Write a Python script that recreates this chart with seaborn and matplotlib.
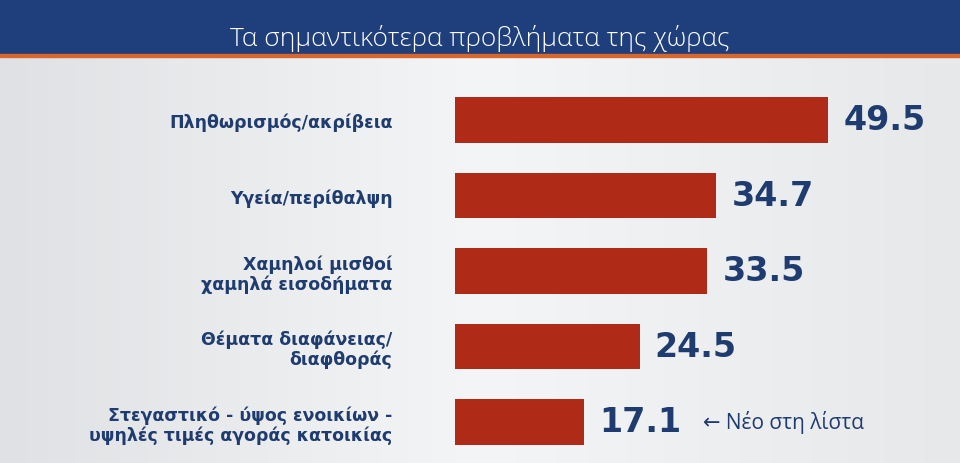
import numpy as np
import pandas as pd
import matplotlib.pyplot as plt
from matplotlib.patches import Rectangle
import seaborn as sns

categories = [
    "Πληθωρισμός/ακρίβεια",
    "Υγεία/περίθαλψη",
    "Χαμηλοί μισθοί\nχαμηλά εισοδήματα",
    "Θέματα διαφάνειας/\nδιαφθοράς",
    "Στεγαστικό - ύψος ενοικίων -\nυψηλές τιμές αγοράς κατοικίας",
]
values = [49.5, 34.7, 33.5, 24.5, 17.1]
title = "Τα σημαντικότερα προβλήματα της χώρας"
note = "← Νέο στη λίστα"

df = pd.DataFrame({"category": categories, "value": values})

sns.set_theme(style="white")
plt.rcParams["font.family"] = ["Open Sans", "DejaVu Sans"]

navy = "#1f3c70"
bar_red = "#b02a18"

fig = plt.figure(figsize=(9.6, 4.64), dpi=100)

# background gradient
bg = fig.add_axes([0, 0, 1, 1], zorder=-10)
grad = np.linspace(0, 1, 256).reshape(1, -1)
bg.imshow(grad, aspect="auto", cmap=sns.blend_palette(["#dfe1e4", "#f4f5f6", "#e6e8ea"], as_cmap=True),
          extent=[0, 1, 0, 1])
bg.set_axis_off()

# header band
fig.patches.append(Rectangle((0, 1 - 55 / 464), 1, 55 / 464, transform=fig.transFigure,
                             color="#1f3e7c", zorder=0))
fig.patches.append(Rectangle((0, 1 - 58 / 464), 1, 3 / 464, transform=fig.transFigure,
                             color="#d8672e", zorder=0))
fig.text(0.5, 1 - 39 / 464, title, color="white", fontsize=19, ha="center", va="center",
         fontweight="light")

ax = fig.add_axes([455 / 960, 3.25 / 464, 452 / 960, 377.5 / 464])
ax.patch.set_alpha(0)
sns.barplot(data=df, x="value", y="category", color=bar_red, width=0.6, saturation=1,
            linewidth=0, ax=ax, orient="h")
ax.set_xlim(0, 60)
ax.set_ylim(4.5, -0.5)
ax.set_xlabel("")
ax.set_ylabel("")
ax.set_xticks([])
sns.despine(ax=ax, left=True, bottom=True)
ax.tick_params(axis="y", length=0, pad=45)
for lbl in ax.get_yticklabels():
    lbl.set_color(navy)
    lbl.set_fontweight("bold")
    lbl.set_fontsize(12.5)
    lbl.set_family(["DejaVu Sans"])
    lbl.set_linespacing(1.1)

ax.bar_label(ax.containers[0], fmt="%.1f", padding=11, color=navy, fontsize=24,
             fontweight="bold", family=["DejaVu Sans"])

ax.annotate(note, xy=(values[-1], 4), xytext=(86, 0), textcoords="offset points",
            color=navy, fontsize=15, va="center", ha="left")

fig.savefig("out.png", dpi=100)
